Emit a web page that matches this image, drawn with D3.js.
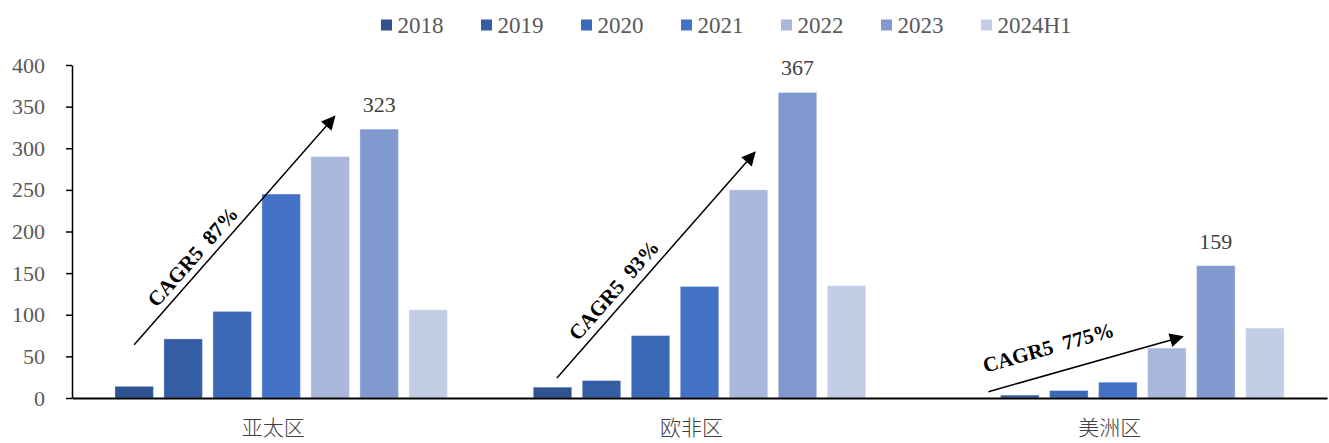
<!DOCTYPE html>
<html>
<head>
<meta charset="utf-8">
<script src="https://cdn.jsdelivr.net/npm/d3@7"></script>
<style>
  html, body { margin: 0; padding: 0; background: #fff; }
  svg { display: block; }
</style>
</head>
<body>
<svg id="chart" width="1329" height="443"></svg>
<script>
// ---------- data ----------
const categories = ["亚太区", "欧非区", "美洲区"];
const seriesNames = ["2018", "2019", "2020", "2021", "2022", "2023", "2024H1"];
const s2018   = [14, 13, 0];
const s2019   = [71, 21, 3.5];
const s2020   = [104, 75, 9];
const s2021   = [245, 134, 19];
const s2022   = [290, 250, 60];
const s2023   = [323, 367, 159];
const s2024H1 = [106, 135, 84];
const seriesValues = [s2018, s2019, s2020, s2021, s2022, s2023, s2024H1];
const yTicks = [0, 50, 100, 150, 200, 250, 300, 350, 400];
const labelledSeries = "2023";
const cagrTexts = ["CAGR5  87%", "CAGR5  93%", "CAGR5  775%"];
// arrow ends: [bar-slot position (0 = first bar centre), value]
const arrowFrom = [[0.0, 64], [0.09, 24], [0.36, 7.6]];
const arrowTo   = [[4.09, 338], [4.13, 295], [4.32, 73.6]];

// ---------- styles / layout ----------
const colors = ["#2F5391", "#355DA4", "#3C69B6", "#4472C4", "#A9B7DB", "#8299CF", "#C3CDE6"];
const textOffsets = [7, 8, 19];
const plot = { left: 72, right: 1327, top: 65, bottom: 398 };

const svg = d3.select("#chart");

const x0 = d3.scaleBand().domain(categories).range([plot.left, plot.right]).padding(0);
const groupWidth = 343;
const x1 = d3.scaleBand().domain(seriesNames).range([0, groupWidth])
  .paddingInner(0.214).paddingOuter(0.107);
const groupStart = c => x0(c) + (x0.bandwidth() - groupWidth) / 2;
const y = d3.scaleLinear().domain([0, 400]).range([plot.bottom, plot.top]);
const color = d3.scaleOrdinal().domain(seriesNames).range(colors);

// ---------- bars ----------
const rows = [];
categories.forEach((c, ci) => {
  seriesNames.forEach((s, si) => {
    rows.push({ cat: c, series: s, value: seriesValues[si][ci] });
  });
});

svg.append("g").selectAll("rect").data(rows.filter(d => d.value > 0)).join("rect")
  .attr("x", d => groupStart(d.cat) + x1(d.series))
  .attr("y", d => y(d.value))
  .attr("width", x1.bandwidth())
  .attr("height", d => y(0) - y(d.value))
  .attr("fill", d => color(d.series))
  .attr("stroke", "#ffffff")
  .attr("stroke-opacity", 0.35)
  .attr("stroke-width", 1);

// ---------- data labels ----------
svg.append("g").selectAll("text").data(rows.filter(d => d.series === labelledSeries)).join("text")
  .attr("x", d => groupStart(d.cat) + x1(d.series) + x1.bandwidth() / 2)
  .attr("y", d => y(d.value) - 17)
  .attr("text-anchor", "middle")
  .attr("font-family", "'Liberation Serif', 'Times New Roman', serif")
  .attr("font-size", 22)
  .attr("fill", "#404040")
  .text(d => d.value);

// ---------- y axis ----------
const yAxis = svg.append("g")
  .attr("transform", `translate(${plot.left},0)`)
  .call(d3.axisLeft(y).tickValues(yTicks).tickSize(6).tickSizeOuter(0).tickPadding(21));
yAxis.select(".domain").attr("stroke", "#000").attr("stroke-width", 1.5);
yAxis.selectAll(".tick line").attr("stroke", "#000").attr("stroke-width", 1.5);
yAxis.selectAll(".tick text")
  .attr("font-family", "'Liberation Serif', 'Times New Roman', serif")
  .attr("font-size", 22)
  .attr("fill", "#595959");

// ---------- x axis ----------
const xAxis = svg.append("g")
  .attr("transform", `translate(0,${plot.bottom})`)
  .call(d3.axisBottom(x0).tickSize(0).tickSizeOuter(0).tickPadding(22));
xAxis.select(".domain").attr("stroke", "#000").attr("stroke-width", 2);
xAxis.selectAll(".tick text")
  .attr("font-family", "'Noto Sans CJK SC', sans-serif")
  .attr("font-size", 21)
  .attr("font-weight", 300)
  .attr("fill", "#404040")
  .attr("dx", -8);

// ---------- arrows + CAGR ----------
const defs = svg.append("defs");
defs.append("marker")
  .attr("id", "arrowhead")
  .attr("viewBox", "0 0 10 10")
  .attr("refX", 9).attr("refY", 5)
  .attr("markerWidth", 16).attr("markerHeight", 14)
  .attr("markerUnits", "userSpaceOnUse")
  .attr("orient", "auto")
  .append("path").attr("d", "M0,0 L10,5 L0,10 Z").attr("fill", "#000");

const slotX = (c, pos) => groupStart(c) + x1(seriesNames[0]) + x1.bandwidth() / 2 + pos * x1.step();

categories.forEach((c, i) => {
  const xa = slotX(c, arrowFrom[i][0]), ya = y(arrowFrom[i][1]);
  const xb = slotX(c, arrowTo[i][0]), yb = y(arrowTo[i][1]);
  svg.append("line")
    .attr("x1", xa).attr("y1", ya).attr("x2", xb).attr("y2", yb)
    .attr("stroke", "#000").attr("stroke-width", 1.5)
    .attr("marker-end", "url(#arrowhead)");
  const ang = Math.atan2(yb - ya, xb - xa) * 180 / Math.PI;
  const t = 0.345;
  const mx = xa + (xb - xa) * t, my = ya + (yb - ya) * t;
  svg.append("text")
    .attr("transform", `translate(${mx},${my}) rotate(${ang})`)
    .attr("x", 0).attr("y", -textOffsets[i])
    .attr("text-anchor", "middle")
    .attr("font-family", "'Liberation Serif', 'Times New Roman', serif")
    .attr("font-weight", "bold")
    .attr("font-size", 21)
    .attr("fill", "#000")
    .attr("xml:space", "preserve")
    .style("white-space", "pre")
    .text(cagrTexts[i]);
});

// ---------- legend ----------
const legend = svg.append("g");
let lx = 381;
seriesNames.forEach((s, i) => {
  const g = legend.append("g").attr("transform", `translate(${lx},0)`);
  g.append("rect").attr("x", 0).attr("y", 19.5).attr("width", 11).attr("height", 11).attr("fill", colors[i]);
  const t = g.append("text").attr("x", 16.5).attr("y", 33)
    .attr("font-family", "'Liberation Serif', 'Times New Roman', serif")
    .attr("font-size", 23)
    .attr("fill", "#595959")
    .text(s);
  lx += 16.5 + t.node().getComputedTextLength() + 37.5;
});
</script>
</body>
</html>
